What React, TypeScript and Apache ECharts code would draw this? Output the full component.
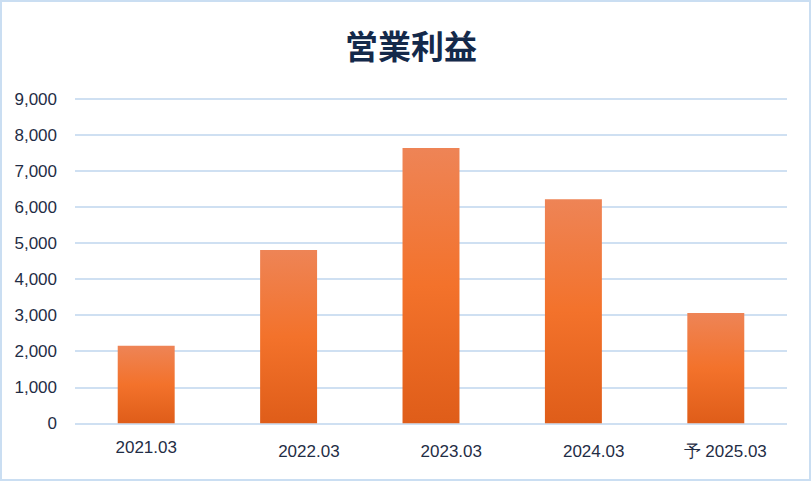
import React, { useEffect, useRef } from "react";
import * as echarts from "echarts";

const categories = ["2021.03", "2022.03", "2023.03", "2024.03", "予 2025.03"];
const values = [2150, 4810, 7640, 6220, 3060];
const yMin = 0;
const yMax = 9000;
const yInterval = 1000;
const titleText = "営業利益";

const labelColor = "#1f2d45";
const gridColor = "#cfe0f2";
const latin = "'Liberation Sans', Arial, sans-serif";

export default function App() {
  const ref = useRef<HTMLDivElement>(null);
  useEffect(() => {
    if (!ref.current) return;
    const chart = echarts.init(ref.current, null, { renderer: "svg" });
    chart.setOption({
      animation: false,
      backgroundColor: "#ffffff",
      title: {
        text: titleText,
        left: 406,
        textAlign: "center",
        top: 23,
        textStyle: {
          fontFamily: "'Noto Sans CJK JP', sans-serif",
          fontSize: 33,
          fontWeight: "bold",
          color: "#14294a",
        },
      },
      graphic: [
        {
          type: "rect",
          shape: { x: 1, y: 1, width: 809, height: 479 },
          style: { fill: "none", stroke: "#cadef2", lineWidth: 2 },
          silent: true,
        },
      ],
      grid: { left: 75, right: 24, top: 99, bottom: 57.7, containLabel: false },
      xAxis: {
        type: "category",
        data: categories,
        axisLine: { show: false },
        axisTick: { show: false },
        axisLabel: {
          interval: 0,
          margin: 14,
          formatter: (v: string, i: number) => (i === 0 ? `{a|${v}}` : `{b|${v}}`),
          rich: {
            a: {
              width: 102,
              align: "center",
              lineHeight: 21,
              fontSize: 17,
              fontFamily: latin,
              color: labelColor,
            },
            b: {
              width: 102,
              align: "right",
              lineHeight: 29,
              fontSize: 17,
              fontFamily: latin,
              color: labelColor,
            },
          },
        },
      },
      yAxis: {
        type: "value",
        min: yMin,
        max: yMax,
        interval: yInterval,
        axisLine: { show: false },
        axisTick: { show: false },
        axisLabel: {
          margin: 18,
          fontSize: 17,
          fontFamily: latin,
          color: labelColor,
          formatter: (v: number) => v.toLocaleString("en-US"),
        },
        splitLine: { lineStyle: { color: gridColor, width: 2 } },
      },
      series: [
        {
          type: "bar",
          data: values,
          barWidth: "40%",
          itemStyle: {
            color: new echarts.graphic.LinearGradient(0, 0, 0, 1, [
              { offset: 0, color: "#ee8456" },
              { offset: 0.5, color: "#f3722b" },
              { offset: 1, color: "#df5d19" },
            ]),
          },
        },
      ],
    });
    return () => chart.dispose();
  }, []);
  return (
    <div
      ref={ref}
      style={{ position: "absolute", left: 0, top: 0, width: 811, height: 481 }}
    />
  );
}
